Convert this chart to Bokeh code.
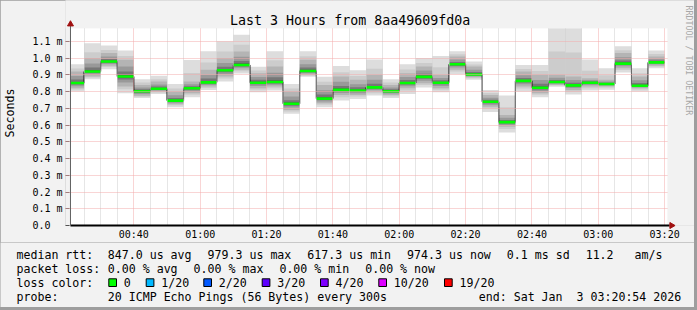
import math
import re
from bokeh.plotting import figure
from bokeh.models import Range1d, FixedTicker
from bokeh.core.properties import value
from bokeh.embed import file_html
from bokeh.resources import INLINE

# ---------------- data ----------------
title_text = "Last 3 Hours from 8aa49609fd0a"
y_axis_title = "Seconds"
watermark_text = "RRDTOOL / TOBI OETIKER"

start_time = "00:20:54"
end_time = "03:20:54"
step_minutes = 5

step_end = ["00:25", "00:30", "00:35", "00:40", "00:45", "00:50", "00:55", "01:00",
            "01:05", "01:10", "01:15", "01:20", "01:25", "01:30", "01:35", "01:40",
            "01:45", "01:50", "01:55", "02:00", "02:05", "02:10", "02:15", "02:20",
            "02:25", "02:30", "02:35", "02:40", "02:45", "02:50", "02:55", "03:00",
            "03:05", "03:10", "03:15", "03:20"]

# round-trip times in ms (smoke: lowest, lower core, median, upper core, highest)
rtt_lo = [0.800, 0.874, 0.933, 0.790, 0.762, 0.786, 0.707, 0.766, 0.810, 0.860, 0.908, 0.796,
          0.806, 0.668, 0.888, 0.707, 0.746, 0.756, 0.776, 0.762, 0.786, 0.825, 0.796, 0.904,
          0.870, 0.678, 0.556, 0.800, 0.766, 0.829, 0.782, 0.806, 0.811, 0.914, 0.800, 0.939]
rtt_q1 = [0.820, 0.890, 0.955, 0.830, 0.775, 0.800, 0.725, 0.790, 0.830, 0.890, 0.930, 0.820,
          0.830, 0.690, 0.900, 0.730, 0.780, 0.780, 0.800, 0.780, 0.820, 0.850, 0.820, 0.930,
          0.885, 0.710, 0.590, 0.830, 0.790, 0.840, 0.810, 0.830, 0.830, 0.940, 0.820, 0.955]
rtt_med = [0.851, 0.920, 0.9793, 0.890, 0.802, 0.817, 0.746, 0.820, 0.855, 0.927, 0.959, 0.853,
           0.857, 0.727, 0.923, 0.758, 0.810, 0.806, 0.825, 0.802, 0.851, 0.888, 0.853, 0.963,
           0.902, 0.739, 0.6173, 0.864, 0.823, 0.857, 0.837, 0.853, 0.845, 0.967, 0.835, 0.9743]
rtt_q3 = [0.920, 1.000, 1.030, 0.990, 0.840, 0.860, 0.800, 0.860, 0.930, 1.000, 1.040, 0.910,
          0.950, 0.800, 0.990, 0.840, 0.890, 0.870, 0.900, 0.840, 0.910, 0.950, 0.900, 1.010,
          0.950, 0.780, 0.660, 0.920, 0.900, 0.900, 0.890, 0.880, 0.870, 1.030, 0.890, 1.010]
rtt_hi = [0.963, 1.088, 1.075, 1.045, 0.874, 0.894, 0.845, 0.988, 1.041, 1.100, 1.140, 0.949,
          1.041, 0.845, 1.041, 0.888, 0.953, 0.927, 0.992, 0.874, 0.963, 1.000, 1.012, 1.041,
          0.979, 0.810, 0.776, 0.959, 0.959, 1.250, 1.250, 0.992, 0.939, 1.071, 0.939, 1.045]
step_loss = [0, 0, 0, 0, 0, 0, 0, 0, 0, 0, 0, 0, 0, 0, 0, 0, 0, 0,
             0, 0, 0, 0, 0, 0, 0, 0, 0, 0, 0, 0, 0, 0, 0, 0, 0, 0]

x_tick_times = ["00:40", "01:00", "01:20", "01:40", "02:00", "02:20", "02:40", "03:00", "03:20"]
y_ticks = [0.0, 0.1, 0.2, 0.3, 0.4, 0.5, 0.6, 0.7, 0.8, 0.9, 1.0, 1.1]
y_tick_labels = ["0.0\u00a0\u00a0", "0.1 m", "0.2 m", "0.3 m", "0.4 m", "0.5 m", "0.6 m",
                 "0.7 m", "0.8 m", "0.9 m", "1.0 m", "1.1 m"]
y_max = 1.179

loss_labels = ["0", "1/20", "2/20", "3/20", "4/20", "10/20", "19/20"]
loss_colors = ["#00ff00", "#00b8ff", "#0059ff", "#5e00ff", "#7e00ff", "#dd00ff", "#ff0000"]

median_stats = ["847.0 us avg", "979.3 us max", "617.3 us min", "974.3 us now", "0.1 ms sd", "11.2   am/s"]
loss_stats = ["0.00 % avg", "0.00 % max", "0.00 % min", "0.00 % now"]
probe_text = "20 ICMP Echo Pings (56 Bytes) every 300s"
end_text = "end: Sat Jan  3 03:20:54 2026"

# ---------------- helpers ----------------
BG = "#f2f2f2"
MONO = "DejaVu Sans Mono"


def to_min(s):
    parts = [int(v) for v in s.split(":")]
    m = parts[0] * 60 + parts[1]
    if len(parts) > 2:
        m += parts[2] / 60.0
    return m


def keep_spaces(s):
    return re.sub(r" {2,}", lambda mm: "\u00a0" * len(mm.group()), s)


t0 = to_min(start_time)
t1 = to_min(end_time)
rights = [to_min(s) for s in step_end]
lefts = [max(r - step_minutes, t0) for r in rights]

# pixel geometry of the graph area (rrdtool style)
PL, PR, PT, PB = 67, 667, 28, 228
W, H_MAIN, H_LEG = 694, 242, 65
FRAME_L = 62


def px_x(px):
    return t0 + (px - PL) * (t1 - t0) / (PR - PL)


def px_y(py):
    return (PB - py) * y_max / (PB - PT)


def lerp(a, b, f):
    return [x + (y - x) * f for x, y in zip(a, b)]


x_lo, x_hi = px_x(FRAME_L), px_x(W)
y_top = px_y(0)

# ---------------- main plot ----------------
p = figure(width=W, height=H_MAIN, x_range=Range1d(x_lo, x_hi), y_range=Range1d(0, y_top),
           output_backend="svg", toolbar_location=None,
           min_border_left=FRAME_L, min_border_right=0, min_border_top=0,
           min_border_bottom=H_MAIN - PB,
           background_fill_color=BG, border_fill_color=BG, outline_line_color=None)
p.title.visible = False

# white canvas of the graph
p.quad(left=[t0], right=[t1], bottom=[0], top=[y_max], fill_color="white", line_color=None,
       level="image")

# smoke layers (outer light -> inner dark)
layers = [
    (rtt_lo, rtt_hi, "#dddddd"),
    (lerp(rtt_lo, rtt_q1, 0.6), lerp(rtt_hi, rtt_q3, 0.6), "#cccccc"),
    (rtt_q1, rtt_q3, "#b4b4b4"),
    (lerp(rtt_q1, rtt_med, 0.4), lerp(rtt_q3, rtt_med, 0.4), "#999999"),
    (lerp(rtt_q1, rtt_med, 0.7), lerp(rtt_q3, rtt_med, 0.7), "#777777"),
    (lerp(rtt_q1, rtt_med, 0.9), lerp(rtt_q3, rtt_med, 0.9), "#4a4a4a"),
]
for lo, hi, col in layers:
    p.quad(left=lefts, right=rights, bottom=lo, top=[min(h, y_max) for h in hi],
           fill_color=col, line_color=None)

# median step line
sx, sy = [], []
for l, r, m in zip(lefts, rights, rtt_med):
    sx += [l, r]
    sy += [m, m]
p.line(sx, sy, line_color="black", line_width=1)
p.segment(x0=lefts, y0=rtt_med, x1=rights, y1=rtt_med,
          line_color=[loss_colors[v] for v in step_loss], line_width=2.6)

# axes
x_major = [to_min(s) for s in x_tick_times]
x_minor = [m for m in range(int(math.ceil(t0 / 5.0)) * 5, int(t1) + 1, 5) if m not in x_major]
xt = FixedTicker(ticks=x_major, minor_ticks=x_minor)
p.xaxis.ticker = xt
p.xaxis.major_label_overrides = {m: s for m, s in zip(x_major, x_tick_times)}
p.xaxis.axis_line_color = None
p.xaxis.major_tick_line_color = None
p.xaxis.minor_tick_line_color = None
p.xaxis.major_label_standoff = -3
p.xaxis.major_label_text_font = MONO
p.xaxis.major_label_text_font_size = "10px"
p.xaxis.major_label_text_color = "black"

yt = FixedTicker(ticks=y_ticks, minor_ticks=[])
p.yaxis.ticker = yt
p.yaxis.major_label_overrides = {v: s for v, s in zip(y_ticks, y_tick_labels)}
p.yaxis.axis_line_color = None
p.yaxis.major_tick_line_color = "#505050"
p.yaxis.major_tick_out = 0
p.yaxis.major_tick_in = PL - FRAME_L - 1
p.yaxis.minor_tick_line_color = None
p.yaxis.major_label_standoff = 3
p.yaxis.major_label_text_font = MONO
p.yaxis.major_label_text_font_size = "10px"
p.yaxis.major_label_text_color = "black"
p.yaxis.axis_label = y_axis_title
p.yaxis.axis_label_standoff = 12
p.yaxis.axis_label_text_font = MONO
p.yaxis.axis_label_text_font_size = "11.6px"
p.yaxis.axis_label_text_font_style = "normal"
p.yaxis.axis_label_text_color = "black"

GRID_MAJOR = "#f2aaaa"
GRID_MINOR = "#cccccc"
p.xgrid.ticker = xt
p.xgrid.grid_line_color = GRID_MAJOR
p.xgrid.grid_line_dash = "1 1"
p.xgrid.minor_grid_line_color = GRID_MINOR
p.xgrid.minor_grid_line_dash = "1 1"
p.xgrid.level = "guide"
p.ygrid.ticker = yt
p.ygrid.grid_line_color = GRID_MAJOR
p.ygrid.grid_line_dash = "1 1"
p.ygrid.level = "guide"

# background bands outside the graph area (hide grid there)
p.quad(left=[x_lo, t1], right=[x_hi, x_hi], bottom=[y_max, 0], top=[y_top, y_max],
       fill_color=BG, line_color=None, level="overlay")

# axis lines with arrow heads
p.segment(x0=[t0], y0=[0], x1=[px_x(669)], y1=[0], line_color="black", line_width=2,
          level="overlay")
p.segment(x0=[t0], y0=[0], x1=[t0], y1=[px_y(24)], line_color="#606060", line_width=1,
          level="overlay")
p.scatter(x=[t0, px_x(671)], y=[px_y(24), 0], marker="triangle", size=6,
          angle=[0, -math.pi / 2], fill_color="#a01010", line_color="#a01010", level="overlay")

# title and watermark
p.text(x=[px_x(348)], y=[px_y(20.0)], text=[title_text], text_align="center",
       text_baseline="alphabetic", text_font=value(MONO), text_font_size=value("13.3px"),
       text_color="black", level="overlay")
p.text(x=[px_x(688)], y=[px_y(5)], text=[watermark_text], angle=-math.pi / 2,
       text_align="left", text_baseline="middle", text_font=value(MONO),
       text_font_size=value("8.3px"), text_color="#a8a8a8", level="overlay")

# ---------------- legend area ----------------
leg = figure(width=W, height=H_LEG, x_range=Range1d(0, W), y_range=Range1d(H_MAIN + H_LEG, H_MAIN),
             output_backend="svg", toolbar_location=None, min_border=0,
             min_border_left=0, min_border_right=0, min_border_top=0, min_border_bottom=0,
             x_axis_type=None, y_axis_type=None,
             background_fill_color=BG, border_fill_color=BG, outline_line_color=None)
leg.title.visible = False

CW = 6.98
GAP = 16
col0 = 16
col1 = 107.3
rows = [254.0, 268.0, 282.0, 296.0]
tx, ty, tt = [], [], []


def put(x, y, s):
    tx.append(x)
    ty.append(y)
    tt.append(keep_spaces(s))


put(col0, rows[0], "median rtt:")
x = col1
for s in median_stats:
    put(x, rows[0], s)
    x += len(s) * CW + GAP
put(col0, rows[1], "packet loss:")
x = col1
for s in loss_stats:
    put(x, rows[1], s)
    x += len(s) * CW + GAP
put(col0, rows[2], "loss color:")
box_x = [108.3, 145.7, 203.3, 261.7, 320.0, 378.3, 444.0]
for bx, lab in zip(box_x, loss_labels):
    put(bx + 15, rows[2], lab)
put(col0, rows[3], "probe:")
put(col1, rows[3], probe_text)
put(478.3, rows[3], end_text)

leg.text(x=tx, y=ty, text=tt, text_font=value(MONO), text_font_size=value("11.6px"),
         text_baseline="alphabetic", text_align="left", text_color="black")
leg.quad(left=box_x, right=[b + 7.7 for b in box_x], top=[278.3] * len(box_x),
         bottom=[286.0] * len(box_x), fill_color=loss_colors, line_color="black", line_width=1)

html = file_html([p, leg], INLINE, title="smokeping")
css = "<style>html, body {margin:0; padding:0; background:#9e9e9e;}</style>"
html = html.replace("<head>", "<head>" + css, 1)
open("out.html", "w").write(html)
